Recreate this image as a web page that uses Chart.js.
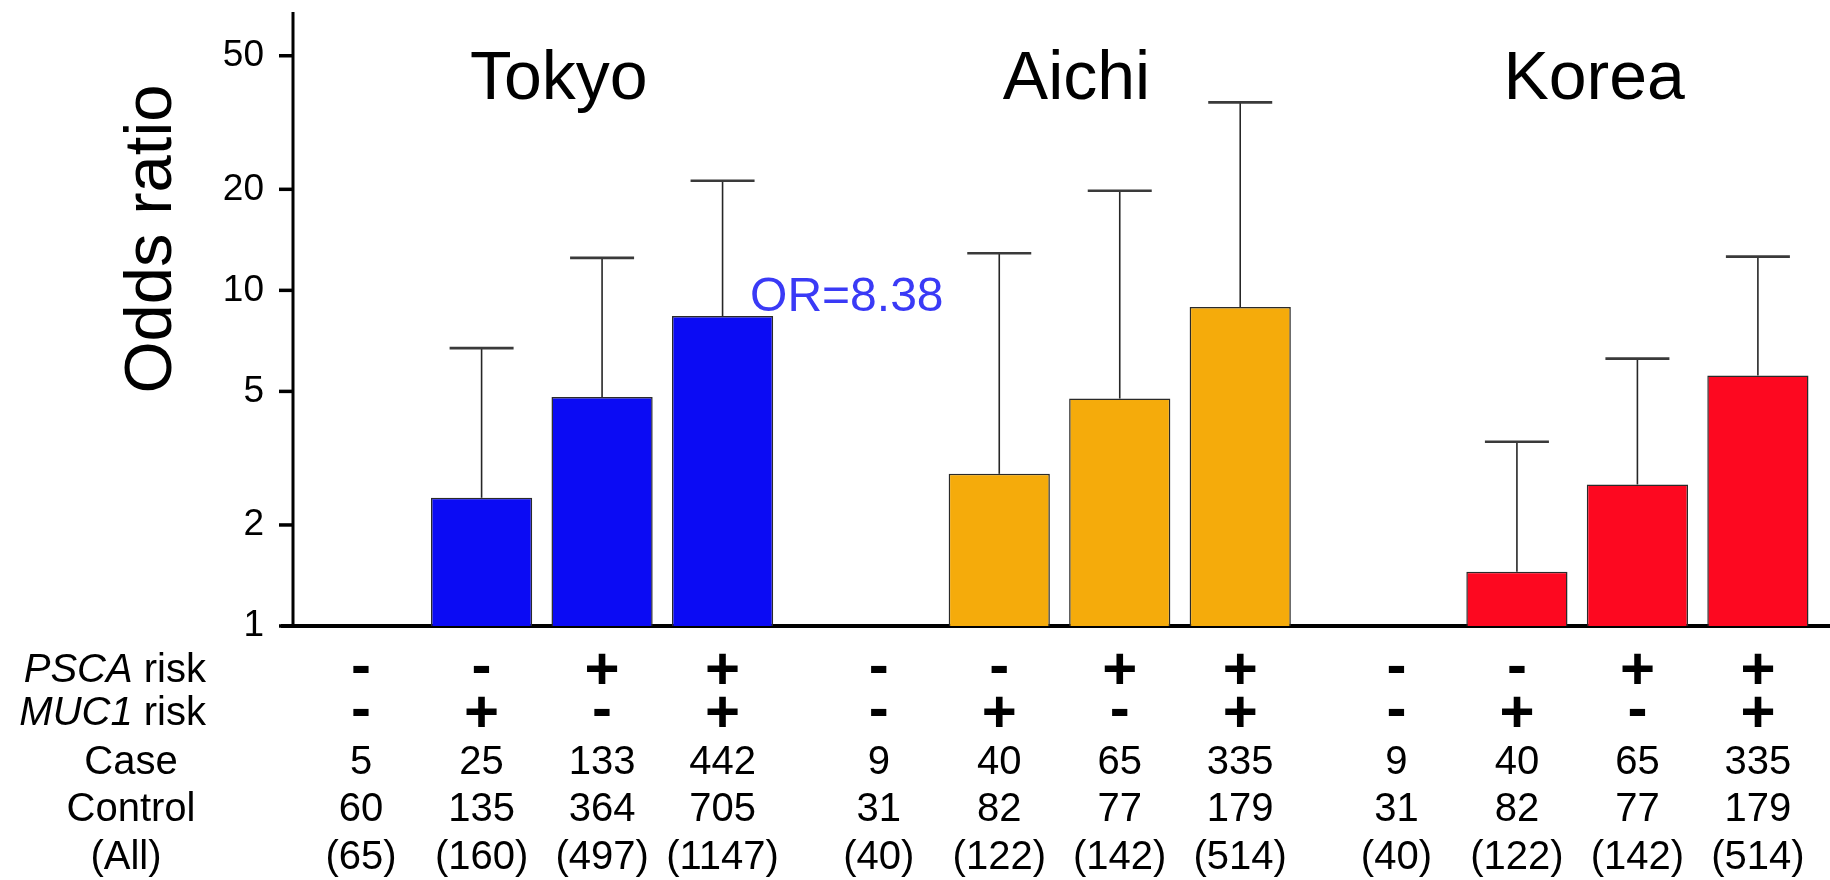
<!DOCTYPE html>
<html>
<head>
<meta charset="utf-8">
<script src="https://cdn.jsdelivr.net/npm/chart.js@4/dist/chart.umd.min.js"></script>
<style>
  html, body { margin: 0; padding: 0; background: #ffffff; overflow: hidden; }
  #wrap { width: 1830px; height: 880px; overflow: hidden; }
</style>
</head>
<body>
<div id="wrap"><canvas id="chart" width="1836" height="880"></canvas></div>
<script>
// Study populations
const regions = ['Tokyo', 'Aichi', 'Korea'];
const regionColors = ['#0b0bf4', '#f5ab0b', '#fd0820'];

// Risk-genotype combinations (one bar per combination within each region)
const pscaRisk = ['-', '-', '+', '+'];
const muc1Risk = ['-', '+', '-', '+'];

// Odds ratios (reference combination = 1) and upper 95% confidence limits
const orTokyo = [1, 2.41, 4.81, 8.38];
const orAichi = [1, 2.84, 4.76, 8.92];
const orKorea = [1, 1.45, 2.64, 5.58];
const upperTokyo = [null, 6.73, 12.5, 21.2];
const upperAichi = [null, 12.9, 19.8, 36.3];
const upperKorea = [null, 3.54, 6.26, 12.6];

// Subject counts
const caseTokyo = [5, 25, 133, 442];
const controlTokyo = [60, 135, 364, 705];
const allTokyo = [65, 160, 497, 1147];
const caseAichi = [9, 40, 65, 335];
const controlAichi = [31, 82, 77, 179];
const allAichi = [40, 122, 142, 514];
const caseKorea = [9, 40, 65, 335];
const controlKorea = [31, 82, 77, 179];
const allKorea = [40, 122, 142, 514];

// Axis ticks
const tickValues = [1, 2, 5, 10, 20, 50];

const orByRegion = [orTokyo, orAichi, orKorea];
const upperByRegion = [upperTokyo, upperAichi, upperKorea];
const caseByRegion = [caseTokyo, caseAichi, caseKorea];
const controlByRegion = [controlTokyo, controlAichi, controlKorea];
const allByRegion = [allTokyo, allAichi, allKorea];

const FONT = "'Liberation Sans', Arial, Helvetica, sans-serif";
const AXIS_X_OFFSET = 10;   // y axis line sits this far right of the plot's left edge

const datasets = pscaRisk.map((p, g) => ({
  label: 'PSCA ' + p + ' / MUC1 ' + muc1Risk[g],
  data: orByRegion.map(arr => arr[g]),
  backgroundColor: regionColors,
  borderColor: '#2a2a2a',
  borderWidth: 1.5,
  borderSkipped: 'start',
  base: 1,
  categoryPercentage: 0.931,
  barPercentage: 0.84
}));

// Vertical axis line and tick marks
const axisPlugin = {
  id: 'yAxisLine',
  afterDraw(chart) {
    const ctx = chart.ctx;
    const y = chart.scales.y;
    const area = chart.chartArea;
    const ax = area.left + AXIS_X_OFFSET;
    ctx.save();
    ctx.strokeStyle = '#000';
    ctx.lineWidth = 3;
    ctx.beginPath();
    ctx.moveTo(ax, area.top);
    ctx.lineTo(ax, area.bottom);
    ctx.stroke();
    ctx.lineWidth = 3.5;
    tickValues.forEach(v => {
      const py = y.getPixelForValue(v);
      ctx.beginPath();
      ctx.moveTo(ax - 14, py);
      ctx.lineTo(ax, py);
      ctx.stroke();
    });
    ctx.restore();
  }
};

// Upper confidence-limit whiskers
const whiskerPlugin = {
  id: 'whiskers',
  afterDatasetsDraw(chart) {
    const ctx = chart.ctx;
    const y = chart.scales.y;
    ctx.save();
    datasets.forEach((ds, g) => {
      const meta = chart.getDatasetMeta(g);
      meta.data.forEach((bar, r) => {
        const up = upperByRegion[r][g];
        if (up == null) return;
        const yUp = y.getPixelForValue(up);
        ctx.strokeStyle = '#262626';
        ctx.lineWidth = 1.6;
        ctx.beginPath();
        ctx.moveTo(bar.x, bar.y);
        ctx.lineTo(bar.x, yUp);
        ctx.stroke();
        ctx.strokeStyle = '#3a3a3a';
        ctx.lineWidth = 2.6;
        ctx.beginPath();
        ctx.moveTo(bar.x - 32, yUp);
        ctx.lineTo(bar.x + 32, yUp);
        ctx.stroke();
      });
    });
    ctx.restore();
  }
};

// Region titles, OR annotation, y title and the genotype / count table
const textPlugin = {
  id: 'texts',
  afterDraw(chart) {
    const ctx = chart.ctx;
    const xs = chart.scales.x;
    ctx.save();
    ctx.fillStyle = '#000';

    // region titles
    ctx.font = '68px ' + FONT;
    ctx.textAlign = 'center';
    ctx.textBaseline = 'alphabetic';
    regions.forEach((name, i) => {
      ctx.fillText(name, xs.getPixelForValue(i) + 17, 99);
    });

    // highlighted odds ratio
    const topBar = chart.getDatasetMeta(3).data[0];
    ctx.font = '48px ' + FONT;
    ctx.textAlign = 'left';
    ctx.fillStyle = '#3a3af6';
    ctx.fillText('OR=' + orTokyo[3].toFixed(2), topBar.x + 27.5, topBar.y - 5);

    // y axis title
    ctx.fillStyle = '#000';
    ctx.save();
    ctx.translate(171, 239);
    ctx.rotate(-Math.PI / 2);
    ctx.font = '67px ' + FONT;
    ctx.textAlign = 'center';
    ctx.fillText('Odds ratio', 0, 0);
    ctx.restore();

    // table rows
    const rowY = [668, 711, 760, 807, 855];
    const size = 40;
    const labelRight = 206;

    const drawRiskLabel = (gene, cy) => {
      ctx.font = size + 'px ' + FONT;
      const wRisk = ctx.measureText(' risk').width;
      ctx.font = 'italic ' + size + 'px ' + FONT;
      const wGene = ctx.measureText(gene).width;
      const base = cy + 0.36 * size;
      ctx.textAlign = 'left';
      ctx.fillText(gene, labelRight - wRisk - wGene, base);
      ctx.font = size + 'px ' + FONT;
      ctx.fillText(' risk', labelRight - wRisk, base);
    };
    drawRiskLabel('PSCA', rowY[0]);
    drawRiskLabel('MUC1', rowY[1]);

    ctx.font = size + 'px ' + FONT;
    ctx.textAlign = 'center';
    ctx.fillText('Case', 131, rowY[2] + 0.36 * size);
    ctx.fillText('Control', 131, rowY[3] + 0.36 * size);
    ctx.fillText('(All)', 126, rowY[4] + 0.36 * size);

    const signSize = 60;
    const drawSign = (s, x, cy) => {
      ctx.font = 'bold ' + signSize + 'px ' + FONT;
      ctx.textAlign = 'center';
      const off = s === '+' ? 0.345 : 0.29;
      ctx.fillText(s, x, cy + off * signSize);
    };

    datasets.forEach((ds, g) => {
      const meta = chart.getDatasetMeta(g);
      meta.data.forEach((bar, r) => {
        const x = bar.x;
        drawSign(pscaRisk[g], x, rowY[0]);
        drawSign(muc1Risk[g], x, rowY[1]);
        ctx.font = size + 'px ' + FONT;
        ctx.textAlign = 'center';
        ctx.fillText(String(caseByRegion[r][g]), x, rowY[2] + 0.36 * size);
        ctx.fillText(String(controlByRegion[r][g]), x, rowY[3] + 0.36 * size);
        ctx.fillText('(' + allByRegion[r][g] + ')', x, rowY[4] + 0.36 * size);
      });
    });
    ctx.restore();
  }
};

new Chart(document.getElementById('chart'), {
  type: 'bar',
  data: { labels: regions, datasets },
  options: {
    responsive: false,
    animation: false,
    devicePixelRatio: 1,
    layout: { padding: { top: 12, right: 0, left: 0, bottom: 0 } },
    plugins: { legend: { display: false }, tooltip: { enabled: false } },
    scales: {
      x: {
        type: 'category',
        offset: true,
        ticks: { display: false },
        grid: { display: false },
        border: { display: true, color: '#000', width: 4 },
        afterFit(scale) {
          scale.height = 254;
          scale.paddingLeft = 0;
          scale.paddingRight = 0;
        }
      },
      y: {
        type: 'logarithmic',
        min: 1,
        max: 67.5,
        afterBuildTicks(scale) { scale.ticks = tickValues.map(v => ({ value: v })); },
        afterFit(scale) {
          scale.width = 283;
          scale.paddingTop = 0;
          scale.paddingBottom = 0;
        },
        ticks: {
          autoSkip: false,
          padding: 19,
          color: '#000',
          font: { family: FONT, size: 37 },
          callback: (v) => String(v)
        },
        grid: { display: false, drawTicks: false, drawOnChartArea: false },
        border: { display: false }
      }
    }
  },
  plugins: [axisPlugin, whiskerPlugin, textPlugin]
});
</script>
</body>
</html>
